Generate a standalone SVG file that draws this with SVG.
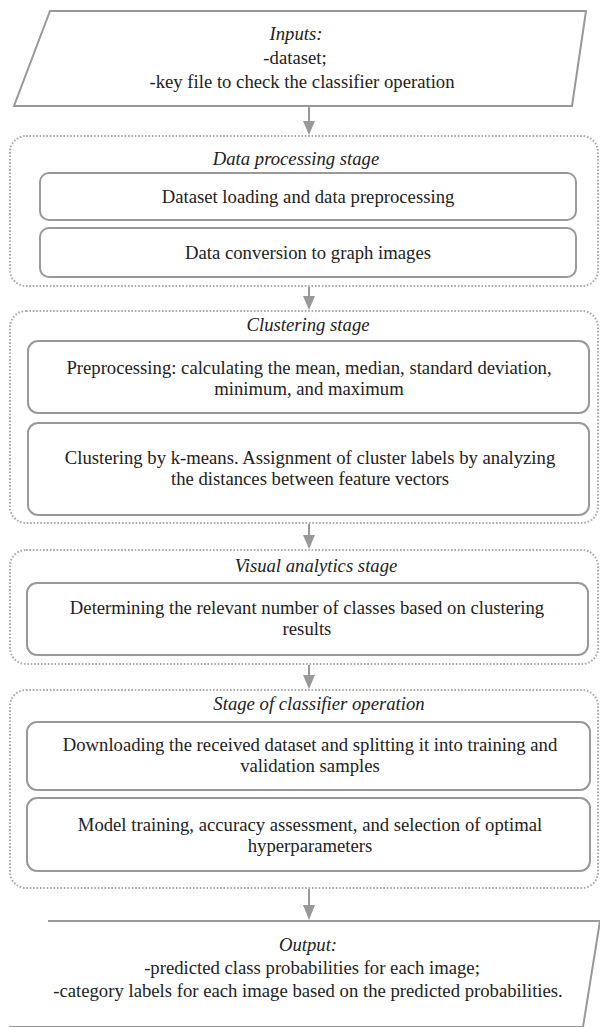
<svg xmlns="http://www.w3.org/2000/svg" width="600" height="1027" viewBox="0 0 600 1027">
<style>
text{font-family:"Liberation Serif","Times New Roman",serif;font-size:18.7px;fill:#222;text-anchor:middle}
.it{font-style:italic}
.io{fill:#fff;stroke:#999;stroke-width:2}
.stage{fill:none;stroke:#aaa;stroke-width:2;stroke-dasharray:1.6 1.8}
.box{fill:#fff;stroke:#999;stroke-width:2}
.conn{stroke:#999;stroke-width:2;fill:none}
.head{fill:#999}
</style>
<g id="connectors">
<line class="conn" x1="309" y1="107" x2="309" y2="122"/><path class="head" d="M303,121 L315,121 L309,135 Z"/>
<line class="conn" x1="309" y1="287" x2="309" y2="297"/><path class="head" d="M303,296 L315,296 L309,310 Z"/>
<line class="conn" x1="309" y1="524" x2="309" y2="536"/><path class="head" d="M303,535 L315,535 L309,549 Z"/>
<line class="conn" x1="309" y1="665" x2="309" y2="676"/><path class="head" d="M303,675 L315,675 L309,689 Z"/>
<line class="conn" x1="309" y1="889" x2="309" y2="906"/><path class="head" d="M303,905 L315,905 L309,920 Z"/>
</g>
<g id="inputs">
<path class="io" d="M50,11 L586,11 L572,106 L14,106 Z"/>
<text class="it" x="296" y="40">Inputs:</text>
<text x="295" y="64">-dataset;</text>
<text x="302" y="88">-key file to check the classifier operation</text>
</g>
<g id="data-processing-stage">
<rect class="stage" x="10" y="136" width="588" height="150" rx="16"/>
<text class="it" x="296" y="165">Data processing stage</text>
</g>
<g id="dataset-loading">
<rect class="box" x="40" y="173" width="536" height="47" rx="9"/>
<text x="308" y="203">Dataset loading and data preprocessing</text>
</g>
<g id="data-conversion">
<rect class="box" x="40" y="228" width="536" height="49" rx="9"/>
<text x="308" y="259">Data conversion to graph images</text>
</g>
<g id="clustering-stage">
<rect class="stage" x="10" y="311" width="588" height="212" rx="16"/>
<text class="it" x="308" y="331">Clustering stage</text>
</g>
<g id="preprocessing">
<rect class="box" x="28" y="341" width="561" height="72" rx="10"/>
<text x="309" y="374">Preprocessing: calculating the mean, median, standard deviation,</text>
<text x="309" y="395">minimum, and maximum</text>
</g>
<g id="kmeans">
<rect class="box" x="28" y="423" width="561" height="92" rx="10"/>
<text x="310" y="464">Clustering by k-means. Assignment of cluster labels by analyzing</text>
<text x="310" y="485">the distances between feature vectors</text>
</g>
<g id="visual-analytics-stage">
<rect class="stage" x="10" y="550" width="588" height="114" rx="16"/>
<text class="it" x="316" y="572">Visual analytics stage</text>
</g>
<g id="determining">
<rect class="box" x="27" y="583" width="561" height="72" rx="10"/>
<text x="307" y="614">Determining the relevant number of classes based on clustering</text>
<text x="307" y="635">results</text>
</g>
<g id="classifier-stage">
<rect class="stage" x="10" y="690" width="588" height="198" rx="16"/>
<text class="it" x="319" y="710">Stage of classifier operation</text>
</g>
<g id="downloading">
<rect class="box" x="27" y="722" width="563" height="68" rx="10"/>
<text x="310" y="751">Downloading the received dataset and splitting it into training and</text>
<text x="310" y="772">validation samples</text>
</g>
<g id="model-training">
<rect class="box" x="27" y="798" width="563" height="73" rx="10"/>
<text x="310" y="831">Model training, accuracy assessment, and selection of optimal</text>
<text x="310" y="852">hyperparameters</text>
</g>
<g id="output">
<path class="io" d="M48,921 L600,921 L583,1027 L9,1027"/>
<text class="it" x="308" y="951">Output:</text>
<text x="312" y="974">-predicted class probabilities for each image;</text>
<text x="308" y="997">-category labels for each image based on the predicted probabilities.</text>
</g>
</svg>
